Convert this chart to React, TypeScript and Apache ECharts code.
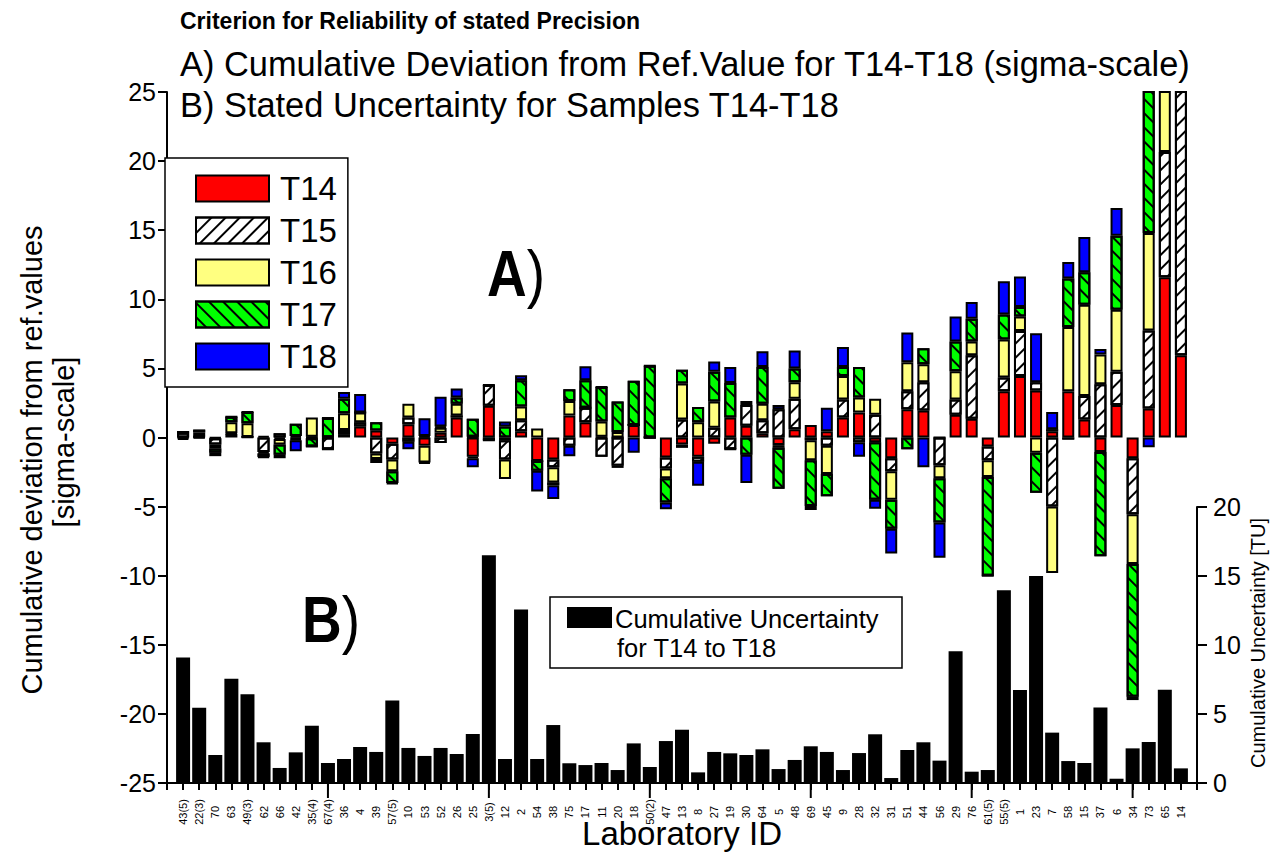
import React, { useEffect, useRef } from 'react';
import * as echarts from 'echarts';

const FONT = '"Liberation Sans", Arial, sans-serif';

const labs = ['43(5)','22(3)','70','63','49(3)','62','66','42','35(4)','67(4)','36','4','39','57(5)','10','53','52','26','25','3(5)','12','2','54','38','75','17','11','20','18','50(2)','47','13','8','27','19','30','64','5','48','69','45','9','28','32','31','51','44','56','29','76','61(5)','55(5)','1','23','7','58','15','37','6','34','73','65','14'];

const t14 = [-0.05, 0.05, -0.05, 0.25, 0.02, 0.1, -0.1, -0.1, 0.05, 0.02,
  0.25, 0.8, 0.5, -0.45, 0.95, -0.6, 0.35, 1.45, -1.4, 2.3,
  -0.2, 0.45, -1.7, -1.6, 1.6, 1.1, 0.05, 0, 0.9, 0,
  -1.45, -0.5, -1.4, -0.45, 1.45, 0.85, 0.3, -0.55, 0.6, 0.9,
  0.45, 1.45, 1.8, -0.35, -1.5, 2.05, 1.95, 0, 1.65, 1.35,
  -0.65, 3.35, 4.45, 3.4, 0.45, 3.35, 1.3, -1.05, 2.35, -1.5,
  2.1, 11.6, 5.95];
const t15 = [0.35, 0.02, -0.45, 0.05, 0.02, -1.05, 0.3, -0.1, -0.05, -0.85,
  0.3, 0.3, -1.15, -1.15, 0.5, 0.1, -0.4, 0.15, 0.05, 1.5,
  -1.4, 0.8, 0, -0.55, -0.6, 1.05, -1.4, -2.05, 0, 0,
  -0.8, 1.3, -0.35, 0.7, -0.85, 1.5, 0.95, 2.05, 2.2, -0.2,
  -0.6, 1.3, -0.35, 1.65, -0.95, 1.3, 2.05, -2.0, 1.1, 4.6,
  -1.0, 1.0, 3.25, 0.6, -5.0, -0.15, 1.7, 3.85, 2.4, -4.05,
  5.65, 9.05, 22];
const t16 = [0.05, 0.3, -0.3, 0.8, 1.0, -0.1, -0.4, 0.1, 1.4, 0,
  1.2, 0.7, -0.4, -0.85, 1.0, -1.2, 0.35, 0.85, -0.1, 0,
  -1.4, 1.0, 0.65, -1.1, 1.05, 0, 1.1, 0.4, 0, 0,
  -0.7, 2.6, 1.1, 1.9, 0, 0.3, 1.2, -0.2, 1.2, -1.45,
  -2.05, 1.7, 1.1, 1.15, -2.05, 2.1, 1.3, -0.95, 2.05, 1.0,
  -1.2, 2.75, 1.05, -1.1, -4.8, 4.65, 6.6, 2.15, 4.5, -3.6,
  7.05, 5, 2];
const t17 = [0, 0.2, -0.3, 0.4, 0.8, -0.25, -0.75, 0.9, -0.6, 1.4,
  1.05, 0, 0.6, -0.85, -0.3, -0.1, 0.1, 0.45, 1.3, -0.2,
  0.8, 1.9, -0.7, -0.2, 0.85, 2.0, 2.5, 2.2, 3.2, 5.2,
  -1.75, 1.0, 1.1, 2.15, 2.5, -1.25, 2.65, -2.95, 1.0, -3.3,
  -1.6, 0.65, 2.2, -4.15, -2.1, -0.85, 1.15, -3.2, 2.15, 1.65,
  -7.15, 1.8, 0.7, -2.9, 0.15, 3.5, 2.35, -7.55, 5.35, -9.6,
  12, 3, 2];
const t18 = [-0.1, -0.05, -0.25, 0, 0, -0.05, -0.25, -0.8, 0, 0,
  0.5, 1.35, -0.3, -0.05, -0.55, 1.3, 2.15, 0.65, -0.65, 0,
  0.35, 0.35, -1.5, -1.0, -0.75, 1.0, 0, -0.15, -1.1, 0,
  -0.5, -0.25, -1.75, 0.75, 1.15, -2.05, 1.15, 0.3, 1.3, -0.3,
  1.7, 1.45, -1.05, -0.65, -1.8, 2.15, -2.15, -2.55, 1.8, 1.2,
  0, 2.4, 2.2, 3.55, 1.25, 1.2, 2.55, 0.4, 2.0, -0.25,
  -0.7, 1, 1];
const uncertainty = [9.1, 5.46, 2.03, 7.56, 6.43, 2.95, 1.09, 2.22, 4.15, 1.45,
  1.74, 2.61, 2.25, 5.97, 2.54, 1.96, 2.54, 2.1, 3.55, 16.5,
  1.74, 12.58, 1.74, 4.2, 1.43, 1.3, 1.45, 0.94, 2.87, 1.16,
  3.04, 3.86, 0.77, 2.25, 2.15, 2.03, 2.44, 1.01, 1.67, 2.66,
  2.25, 0.94, 2.17, 3.53, 0.36, 2.39, 2.95, 1.62, 9.54, 0.82,
  0.94, 13.96, 6.74, 15.0, 3.65, 1.59, 1.45, 5.48, 0.31, 2.51,
  2.97, 6.76, 1.06];
const majorTickLabs = ['67(4)', '3(5)', '50(2)', '69', '76', '34'];

const seriesNames = ['T14', 'T15', 'T16', 'T17', 'T18'];
const seriesValues = [t14, t15, t16, t17, t18];
const seriesColors = ['#ff0000', '#ffffff', '#ffff80', '#00ff00', '#0000ff'];
const hatchT15 = { symbol: 'rect', symbolSize: 1, dashArrayX: [1, 0], dashArrayY: [1.6, 7.4], rotation: -Math.PI / 4, color: '#000' };
const hatchT17 = { symbol: 'rect', symbolSize: 1, dashArrayX: [1, 0], dashArrayY: [1.6, 7.4], rotation: Math.PI / 4, color: '#000' };
const seriesDecals: any[] = [null, hatchT15, null, hatchT17, null];

// padded category list: an empty slot at each end so the lab points sit inside the frame
const cats = ['', ...labs, ''];
const pad = (arr: number[]) => ['-', ...arr, '-'];

export default function App() {
  const ref = useRef<HTMLDivElement>(null);
  useEffect(() => {
    if (!ref.current) return;
    const chart = echarts.init(ref.current, undefined, { renderer: 'svg' });
    const axisLine = { show: true, onZero: false, lineStyle: { color: '#000', width: 2 } };
    const barSeries = seriesNames.map((name, k) => ({
      name,
      type: 'bar',
      stack: 'dev',
      stackStrategy: 'samesign',
      xAxisIndex: 0,
      yAxisIndex: 0,
      barWidth: 12,
      z: 3,
      data: pad(seriesValues[k]),
      itemStyle: {
        color: seriesColors[k],
        borderColor: '#000',
        borderWidth: 2,
        ...(seriesDecals[k] ? { decal: seriesDecals[k] } : {}),
      },
    }));
    const option: any = {
      animation: false,
      textStyle: { fontFamily: FONT, color: '#000' },
      grid: [
        { left: 167, top: 92, width: 1030, height: 691 },
        { left: 167, top: 507, width: 1030, height: 276 },
      ],
      xAxis: [
        {
          gridIndex: 0, type: 'category', data: cats, boundaryGap: false, position: 'bottom',
          axisLine, axisTick: { show: true, length: 7, interval: 0, lineStyle: { color: '#000', width: 2 } },
          axisLabel: {
            interval: 0, rotate: 90, fontSize: 11, color: '#000', margin: 29, align: 'center', verticalAlign: 'middle',
            fontFamily: FONT,
          },
          splitLine: { show: false },
        },
        { gridIndex: 1, type: 'category', data: cats, boundaryGap: false, show: false },
      ],
      yAxis: [
        {
          gridIndex: 0, type: 'value', min: -25, max: 25, interval: 5, position: 'left',
          axisLine, axisTick: { show: true, length: 9, lineStyle: { color: '#000', width: 2 } },
          axisLabel: { fontSize: 25, color: '#000', margin: 11, fontFamily: FONT },
          splitLine: { show: false },
        },
        {
          gridIndex: 1, type: 'value', min: 0, max: 20, interval: 5, position: 'right',
          axisLine, axisTick: { show: true, length: 10, lineStyle: { color: '#000', width: 2 } },
          axisLabel: { fontSize: 25, color: '#000', margin: 16, fontFamily: FONT },
          splitLine: { show: false },
        },
      ],
      legend: {
        data: seriesNames,
        orient: 'vertical',
        left: 165,
        top: 158,
        itemWidth: 73,
        itemHeight: 26,
        itemGap: 9,
        icon: 'rect',
        padding: [14, 11, 14, 30],
        borderColor: '#000',
        borderWidth: 1.5,
        backgroundColor: '#fff',
        textStyle: { fontSize: 33, color: '#000', fontFamily: FONT, padding: [0, 0, 0, 6] },
        itemStyle: { borderColor: '#000', borderWidth: 2 },
      },
      series: [
        {
          name: 'Cumulative Uncertainty', type: 'bar', xAxisIndex: 1, yAxisIndex: 1, barWidth: 14, z: 2,
          data: pad(uncertainty),
          itemStyle: { color: '#000' },
        },
        ...barSeries,
        {
          type: 'custom', xAxisIndex: 1, yAxisIndex: 1, silent: true, clip: false, z: 10,
          data: majorTickLabs.map((l) => [l, 0]),
          renderItem: (params: any, api: any) => {
            const p = api.coord([api.value(0), 0]);
            return { type: 'line', shape: { x1: p[0], y1: p[1], x2: p[0], y2: p[1] + 15 }, style: { stroke: '#000', lineWidth: 2 } };
          },
        },
      ],
      graphic: [
        { type: 'text', x: 180, y: 21, style: { text: 'Criterion for Reliability of stated Precision', fontSize: 23, fontWeight: 'bold', fontFamily: FONT, fill: '#000', align: 'left', verticalAlign: 'middle' } },
        { type: 'text', x: 180, y: 64, style: { text: 'A) Cumulative Deviation from Ref.Value for T14-T18 (sigma-scale)', fontSize: 34.4, fontFamily: FONT, fill: '#000', align: 'left', verticalAlign: 'middle' } },
        { type: 'text', x: 180, y: 105, style: { text: 'B) Stated Uncertainty for Samples T14-T18', fontSize: 34.4, fontFamily: FONT, fill: '#000', align: 'left', verticalAlign: 'middle' } },
        { type: 'text', x: 32, y: 460, rotation: Math.PI / 2, style: { text: 'Cumulative deviation from ref.values', fontSize: 29, fontFamily: FONT, fill: '#000', align: 'center', verticalAlign: 'middle' } },
        { type: 'text', x: 64, y: 442, rotation: Math.PI / 2, style: { text: '[sigma-scale]', fontSize: 29, fontFamily: FONT, fill: '#000', align: 'center', verticalAlign: 'middle' } },
        { type: 'text', x: 682, y: 833, style: { text: 'Laboratory ID', fontSize: 33, fontFamily: FONT, fill: '#000', align: 'center', verticalAlign: 'middle' } },
        { type: 'text', x: 1258, y: 643, rotation: Math.PI / 2, style: { text: 'Cumulative Uncertainty [TU]', fontSize: 20, fontFamily: FONT, fill: '#000', align: 'center', verticalAlign: 'middle' } },
        { type: 'text', x: 487, y: 274, scaleY: 1.18, style: { text: '{b|A}{n|)}', fontFamily: FONT, fill: '#000', align: 'left', verticalAlign: 'middle', rich: { b: { fontSize: 55, fontWeight: 'bold', fontFamily: FONT }, n: { fontSize: 55, fontFamily: FONT } } } },
        { type: 'text', x: 302, y: 620, scaleY: 1.18, style: { text: '{b|B}{n|)}', fontFamily: FONT, fill: '#000', align: 'left', verticalAlign: 'middle', rich: { b: { fontSize: 55, fontWeight: 'bold', fontFamily: FONT }, n: { fontSize: 55, fontFamily: FONT } } } },
        { type: 'rect', shape: { x: 550, y: 597, width: 352, height: 71 }, style: { fill: '#fff', stroke: '#000', lineWidth: 1.5 }, z: 5 },
        { type: 'rect', shape: { x: 567, y: 607, width: 45, height: 21 }, style: { fill: '#000' }, z: 6 },
        { type: 'text', x: 615, y: 619, z: 6, style: { text: 'Cumulative Uncertainty', fontSize: 25.5, fontFamily: FONT, fill: '#000', align: 'left', verticalAlign: 'middle' } },
        { type: 'text', x: 617, y: 648, z: 6, style: { text: 'for T14 to T18', fontSize: 25.5, fontFamily: FONT, fill: '#000', align: 'left', verticalAlign: 'middle' } },
      ],
    };
    chart.setOption(option);
    return () => chart.dispose();
  }, []);
  return <div ref={ref} style={{ position: 'fixed', left: 0, top: 0, width: 1273, height: 855, background: '#fff' }} />;
}
